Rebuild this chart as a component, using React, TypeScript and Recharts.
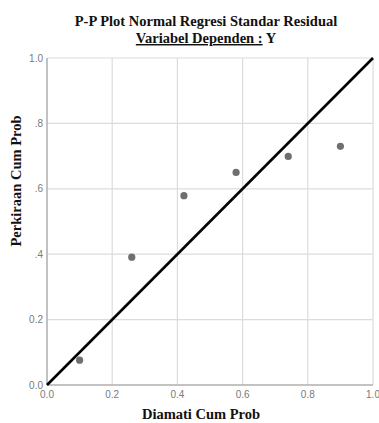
import React from "react";
import { ScatterChart, Scatter, XAxis, YAxis, CartesianGrid } from "recharts";

const observedCumProb = [0.1, 0.26, 0.42, 0.58, 0.74, 0.9];
const expectedCumProb = [0.076, 0.391, 0.579, 0.65, 0.699, 0.73];
const axisTicks = [0, 0.2, 0.4, 0.6, 0.8, 1.0];
const xTickLabels = ["0.0", "0.2", "0.4", "0.6", "0.8", "1.0"];
const yTickLabels = ["0.0", "0.2", ".4", ".6", ".8", "1.0"];
const diagonal = [0, 1];

const points = observedCumProb.map((x, i) => ({ x, y: expectedCumProb[i] }));
const lineData = diagonal.map((v) => ({ x: v, y: v }));

const Dot = (props: any) => (
  <circle cx={props.cx} cy={props.cy} r={3.6} fill="#6f6f6f" />
);

export default function App() {
  const serif = "'Liberation Serif', 'Times New Roman', serif";
  const sans = "'Liberation Sans', Arial, sans-serif";
  return (
    <div style={{ position: "absolute", left: 0, top: 0, width: 379, height: 423, background: "#fff" }}>
      <ScatterChart
        width={379}
        height={423}
        margin={{ top: 58, right: 6, left: 0, bottom: 0 }}
      >
        <CartesianGrid stroke="#dcdcdc" strokeWidth={1.2} />
        <XAxis
          type="number"
          dataKey="x"
          domain={[0, 1]}
          ticks={axisTicks}
          tickFormatter={(v: number) => xTickLabels[axisTicks.indexOf(v)]}
          tick={{ fill: "#7a7a7a", fontSize: 10, fontFamily: sans }}
          tickLine={false}
          tickSize={4}
          tickMargin={2}
          axisLine={{ stroke: "#b4b4b4", strokeWidth: 1.5 }}
          height={38}
          interval={0}
        />
        <YAxis
          type="number"
          dataKey="y"
          domain={[0, 1]}
          ticks={axisTicks}
          tickFormatter={(v: number) => yTickLabels[axisTicks.indexOf(v)]}
          tick={{ fill: "#7a7a7a", fontSize: 10, fontFamily: sans }}
          tickLine={false}
          tickSize={2}
          tickMargin={2}
          axisLine={{ stroke: "#b4b4b4", strokeWidth: 1.5 }}
          width={47}
          interval={0}
        />
        <Scatter
          data={lineData}
          line={{ stroke: "#000", strokeWidth: 2.6 }}
          shape={() => <g />}
          isAnimationActive={false}
        />
        <Scatter data={points} shape={Dot} isAnimationActive={false} />
      </ScatterChart>
      <svg
        width={379}
        height={423}
        style={{ position: "absolute", left: 0, top: 0, pointerEvents: "none" }}
      >
        <text x={206} y={26} textAnchor="middle" fontFamily={serif} fontWeight="bold" fontSize={14.5} fill="#111">
          P-P Plot Normal Regresi Standar Residual
        </text>
        <text x={206} y={43} textAnchor="middle" fontFamily={serif} fontWeight="bold" fontSize={14.5} fill="#111">
          <tspan textDecoration="underline">Variabel Dependen :</tspan> Y
        </text>
        <text x={201} y={419} textAnchor="middle" fontFamily={serif} fontWeight="bold" fontSize={14.5} fill="#111">
          Diamati Cum Prob
        </text>
        <text
          x={0}
          y={0}
          transform="translate(21,181) rotate(-90)"
          textAnchor="middle"
          fontFamily={serif}
          fontWeight="bold"
          fontSize={14.5}
          fill="#111"
        >
          Perkiraan Cum Prob
        </text>
      </svg>
    </div>
  );
}
